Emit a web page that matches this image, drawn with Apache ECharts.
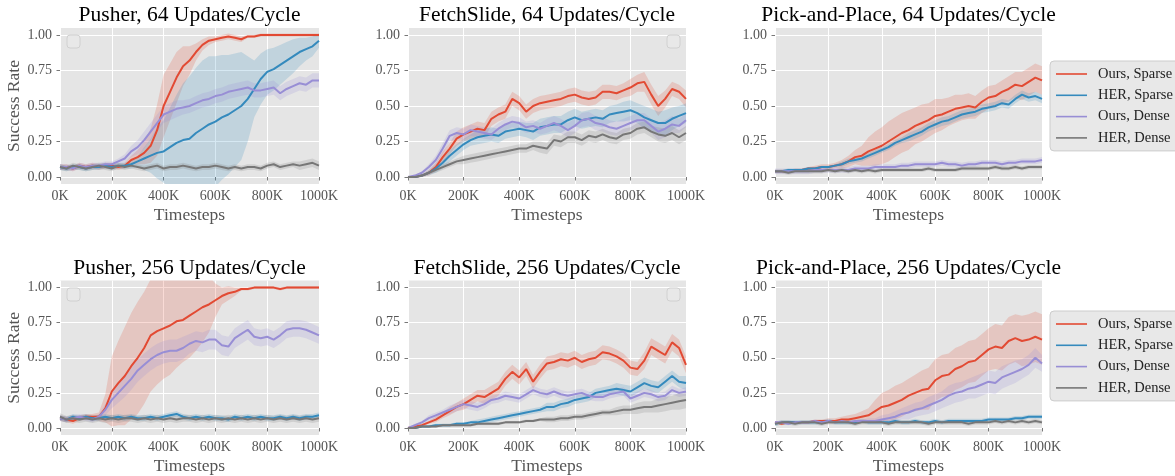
<!DOCTYPE html>
<html><head><meta charset="utf-8">
<script src="https://cdn.jsdelivr.net/npm/echarts@6/dist/echarts.min.js"></script>
<style>html,body{margin:0;padding:0;background:#fff}#c{width:1175px;height:476px}</style>
</head><body><div id="c"></div><script>
// ---------------- DATA ----------------
const timestepsK = [0,25,50,75,100,125,150,175,200,225,250,275,300,325,350,375,400,425,450,475,500,525,550,575,600,625,650,675,700,725,750,775,800,825,850,875,900,925,950,975,1000];
const methods = ['Ours, Sparse','HER, Sparse','Ours, Dense','HER, Dense'];
const titles = ['Pusher, 64 Updates/Cycle','FetchSlide, 64 Updates/Cycle','Pick-and-Place, 64 Updates/Cycle','Pusher, 256 Updates/Cycle','FetchSlide, 256 Updates/Cycle','Pick-and-Place, 256 Updates/Cycle'];
const yTicks = [0,0.25,0.5,0.75,1.0];

// Pusher, 64
const pusher64_oursSparse = [0.07,0.07,0.06,0.08,0.07,0.08,0.07,0.08,0.08,0.07,0.08,0.12,0.14,0.17,0.22,0.33,0.5,0.6,0.7,0.78,0.82,0.88,0.93,0.96,0.97,0.98,0.99,0.98,0.97,0.99,0.99,1.0,1.0,1.0,1.0,1.0,1.0,1.0,1.0,1.0,1.0];
const pusher64_oursSparse_sd = [0.02,0.02,0.02,0.02,0.02,0.02,0.02,0.02,0.02,0.02,0.02,0.03,0.05,0.08,0.12,0.18,0.22,0.2,0.18,0.14,0.1,0.06,0.04,0.03,0.02,0.02,0.02,0.02,0.02,0.01,0.01,0.01,0.01,0.01,0.01,0.01,0.01,0.01,0.01,0.01,0.01];
const pusher64_herSparse = [0.07,0.06,0.07,0.07,0.06,0.07,0.07,0.08,0.07,0.08,0.08,0.09,0.11,0.13,0.15,0.17,0.18,0.21,0.24,0.26,0.27,0.31,0.34,0.37,0.39,0.42,0.44,0.47,0.5,0.55,0.62,0.69,0.74,0.76,0.79,0.82,0.85,0.88,0.9,0.92,0.96];
const pusher64_herSparse_sd = [0.02,0.02,0.02,0.02,0.02,0.02,0.02,0.02,0.02,0.02,0.02,0.03,0.04,0.08,0.12,0.18,0.22,0.28,0.34,0.4,0.44,0.46,0.48,0.48,0.46,0.44,0.42,0.4,0.38,0.3,0.2,0.18,0.16,0.15,0.14,0.13,0.12,0.1,0.08,0.07,0.05];
const pusher64_oursDense = [0.07,0.07,0.06,0.08,0.07,0.08,0.08,0.09,0.09,0.11,0.13,0.18,0.21,0.26,0.32,0.38,0.44,0.46,0.48,0.49,0.5,0.52,0.54,0.55,0.57,0.58,0.6,0.61,0.62,0.63,0.61,0.61,0.62,0.63,0.59,0.62,0.64,0.66,0.65,0.68,0.68];
const pusher64_oursDense_sd = [0.02,0.02,0.02,0.02,0.02,0.02,0.02,0.02,0.02,0.02,0.03,0.04,0.05,0.06,0.06,0.06,0.06,0.06,0.06,0.05,0.05,0.05,0.05,0.05,0.05,0.05,0.05,0.05,0.05,0.05,0.05,0.05,0.05,0.05,0.05,0.05,0.05,0.05,0.05,0.05,0.05];
const pusher64_herDense = [0.07,0.06,0.08,0.07,0.06,0.07,0.08,0.07,0.06,0.08,0.07,0.08,0.07,0.06,0.07,0.08,0.06,0.07,0.07,0.08,0.07,0.06,0.07,0.07,0.08,0.07,0.06,0.07,0.06,0.07,0.07,0.06,0.08,0.09,0.07,0.08,0.09,0.08,0.09,0.1,0.08];
const pusher64_herDense_sd = [0.02,0.02,0.02,0.02,0.02,0.02,0.02,0.02,0.02,0.02,0.02,0.02,0.02,0.02,0.02,0.02,0.02,0.02,0.02,0.02,0.02,0.02,0.02,0.02,0.02,0.02,0.02,0.02,0.02,0.02,0.02,0.02,0.02,0.02,0.02,0.02,0.02,0.03,0.03,0.03,0.03];

// FetchSlide, 64
const fetch64_oursSparse = [0.0,0.0,0.01,0.03,0.07,0.14,0.2,0.27,0.3,0.32,0.34,0.33,0.41,0.44,0.46,0.55,0.52,0.46,0.5,0.52,0.53,0.54,0.55,0.57,0.58,0.56,0.55,0.56,0.6,0.6,0.59,0.61,0.63,0.66,0.67,0.58,0.5,0.55,0.62,0.6,0.55];
const fetch64_oursSparse_sd = [0.0,0.005,0.01,0.02,0.03,0.04,0.04,0.05,0.05,0.05,0.05,0.05,0.05,0.05,0.05,0.05,0.05,0.05,0.05,0.05,0.05,0.05,0.05,0.05,0.05,0.05,0.05,0.05,0.05,0.05,0.05,0.05,0.06,0.06,0.07,0.07,0.07,0.06,0.05,0.05,0.06];
const fetch64_herSparse = [0.0,0.0,0.01,0.03,0.06,0.1,0.15,0.19,0.23,0.26,0.28,0.29,0.3,0.29,0.32,0.33,0.34,0.33,0.32,0.35,0.36,0.37,0.37,0.4,0.42,0.4,0.41,0.42,0.41,0.44,0.45,0.46,0.47,0.45,0.42,0.4,0.38,0.38,0.41,0.43,0.45];
const fetch64_herSparse_sd = [0.0,0.005,0.01,0.02,0.03,0.04,0.04,0.04,0.04,0.04,0.05,0.05,0.05,0.05,0.05,0.05,0.05,0.05,0.06,0.06,0.06,0.06,0.06,0.06,0.06,0.06,0.06,0.06,0.06,0.06,0.06,0.07,0.07,0.07,0.08,0.08,0.08,0.09,0.08,0.07,0.07];
const fetch64_oursDense = [0.0,0.01,0.03,0.07,0.12,0.2,0.29,0.31,0.3,0.33,0.32,0.31,0.3,0.34,0.37,0.39,0.38,0.35,0.36,0.34,0.36,0.38,0.36,0.33,0.36,0.4,0.41,0.38,0.37,0.35,0.34,0.36,0.38,0.4,0.4,0.36,0.32,0.34,0.37,0.36,0.4];
const fetch64_oursDense_sd = [0.0,0.005,0.01,0.02,0.03,0.04,0.04,0.04,0.04,0.04,0.04,0.04,0.04,0.04,0.04,0.04,0.04,0.04,0.04,0.04,0.05,0.05,0.05,0.05,0.05,0.05,0.05,0.05,0.05,0.05,0.05,0.05,0.05,0.05,0.05,0.05,0.06,0.06,0.06,0.05,0.05];
const fetch64_herDense = [0.0,0.0,0.01,0.03,0.05,0.07,0.09,0.11,0.12,0.13,0.14,0.15,0.16,0.17,0.18,0.19,0.2,0.2,0.22,0.21,0.2,0.26,0.25,0.28,0.28,0.26,0.29,0.28,0.3,0.28,0.27,0.3,0.31,0.34,0.35,0.32,0.3,0.29,0.31,0.28,0.31];
const fetch64_herDense_sd = [0.0,0.005,0.01,0.01,0.02,0.02,0.02,0.02,0.03,0.03,0.03,0.03,0.03,0.03,0.03,0.03,0.03,0.03,0.03,0.04,0.04,0.04,0.04,0.04,0.04,0.04,0.04,0.04,0.04,0.04,0.04,0.04,0.04,0.04,0.04,0.04,0.05,0.05,0.05,0.05,0.05];

// Pick-and-Place, 64
const pick64_oursSparse = [0.04,0.04,0.04,0.05,0.05,0.06,0.06,0.07,0.07,0.08,0.09,0.11,0.14,0.15,0.18,0.2,0.22,0.25,0.28,0.31,0.33,0.36,0.38,0.4,0.43,0.44,0.46,0.48,0.49,0.5,0.49,0.53,0.56,0.57,0.6,0.62,0.65,0.64,0.67,0.7,0.68];
const pick64_oursSparse_sd = [0.01,0.01,0.01,0.01,0.01,0.01,0.02,0.02,0.02,0.02,0.03,0.04,0.05,0.07,0.1,0.12,0.13,0.14,0.14,0.14,0.14,0.13,0.13,0.12,0.12,0.11,0.1,0.1,0.09,0.09,0.08,0.08,0.08,0.08,0.08,0.09,0.09,0.1,0.1,0.1,0.1];
const pick64_herSparse = [0.04,0.04,0.05,0.05,0.05,0.06,0.06,0.07,0.07,0.08,0.09,0.11,0.12,0.13,0.15,0.17,0.19,0.21,0.24,0.26,0.28,0.3,0.32,0.35,0.37,0.39,0.4,0.42,0.44,0.45,0.46,0.48,0.49,0.5,0.52,0.51,0.55,0.58,0.56,0.57,0.55];
const pick64_herSparse_sd = [0.01,0.01,0.01,0.01,0.01,0.01,0.01,0.01,0.01,0.01,0.02,0.02,0.02,0.02,0.02,0.02,0.02,0.02,0.02,0.02,0.03,0.03,0.03,0.03,0.03,0.03,0.03,0.03,0.03,0.03,0.03,0.03,0.03,0.03,0.03,0.03,0.03,0.03,0.03,0.03,0.03];
const pick64_oursDense = [0.04,0.04,0.04,0.04,0.04,0.04,0.05,0.05,0.05,0.05,0.05,0.05,0.06,0.06,0.06,0.07,0.07,0.07,0.07,0.08,0.08,0.09,0.09,0.09,0.09,0.1,0.09,0.09,0.08,0.09,0.09,0.1,0.1,0.1,0.09,0.1,0.1,0.11,0.11,0.11,0.12];
const pick64_oursDense_sd = [0.02,0.02,0.02,0.02,0.02,0.02,0.02,0.02,0.02,0.02,0.02,0.02,0.02,0.02,0.02,0.02,0.02,0.02,0.02,0.02,0.02,0.02,0.02,0.02,0.02,0.02,0.02,0.02,0.02,0.02,0.02,0.02,0.02,0.02,0.02,0.02,0.02,0.02,0.02,0.02,0.02];
const pick64_herDense = [0.04,0.04,0.03,0.04,0.04,0.04,0.04,0.04,0.05,0.04,0.05,0.04,0.05,0.04,0.05,0.04,0.05,0.05,0.05,0.05,0.05,0.05,0.05,0.06,0.05,0.05,0.05,0.05,0.06,0.06,0.06,0.06,0.06,0.07,0.06,0.06,0.07,0.06,0.07,0.07,0.07];
const pick64_herDense_sd = [0.015,0.015,0.015,0.015,0.015,0.015,0.015,0.015,0.015,0.015,0.015,0.015,0.015,0.015,0.015,0.015,0.015,0.015,0.015,0.015,0.015,0.015,0.015,0.015,0.015,0.015,0.015,0.015,0.015,0.015,0.015,0.015,0.015,0.015,0.015,0.015,0.015,0.015,0.015,0.015,0.015];

// Pusher, 256
const pusher256_oursSparse = [0.07,0.06,0.05,0.07,0.08,0.08,0.08,0.14,0.26,0.32,0.37,0.44,0.5,0.57,0.66,0.69,0.71,0.73,0.76,0.77,0.8,0.83,0.86,0.88,0.91,0.94,0.96,0.97,0.99,0.99,1.0,1.0,1.0,1.0,0.99,1.0,1.0,1.0,1.0,1.0,1.0];
const pusher256_oursSparse_sd = [0.02,0.02,0.02,0.02,0.02,0.02,0.03,0.1,0.25,0.3,0.35,0.38,0.4,0.4,0.4,0.38,0.36,0.35,0.33,0.3,0.3,0.28,0.25,0.2,0.12,0.06,0.05,0.03,0.01,0.01,0.01,0.01,0.01,0.01,0.01,0.01,0.01,0.01,0.01,0.01,0.01];
const pusher256_herSparse = [0.07,0.06,0.08,0.07,0.08,0.07,0.07,0.08,0.07,0.08,0.07,0.08,0.07,0.07,0.08,0.07,0.08,0.09,0.1,0.08,0.07,0.08,0.07,0.08,0.07,0.07,0.06,0.08,0.07,0.08,0.07,0.08,0.07,0.07,0.08,0.07,0.08,0.07,0.08,0.08,0.09];
const pusher256_herSparse_sd = [0.02,0.02,0.02,0.02,0.02,0.02,0.02,0.02,0.02,0.02,0.02,0.02,0.02,0.02,0.02,0.02,0.02,0.02,0.02,0.02,0.02,0.02,0.02,0.02,0.02,0.02,0.02,0.02,0.02,0.02,0.02,0.02,0.02,0.02,0.02,0.02,0.02,0.02,0.02,0.02,0.02];
const pusher256_oursDense = [0.07,0.06,0.07,0.08,0.07,0.06,0.08,0.13,0.2,0.25,0.3,0.35,0.41,0.45,0.49,0.52,0.54,0.55,0.55,0.57,0.6,0.62,0.61,0.63,0.63,0.59,0.58,0.64,0.67,0.7,0.65,0.64,0.65,0.63,0.66,0.7,0.71,0.71,0.7,0.68,0.66];
const pusher256_oursDense_sd = [0.02,0.02,0.02,0.02,0.02,0.02,0.02,0.04,0.06,0.07,0.08,0.08,0.08,0.08,0.08,0.08,0.08,0.08,0.08,0.08,0.07,0.07,0.07,0.07,0.07,0.07,0.07,0.07,0.07,0.07,0.06,0.06,0.06,0.06,0.06,0.06,0.06,0.06,0.06,0.06,0.06];
const pusher256_herDense = [0.08,0.06,0.07,0.06,0.07,0.06,0.07,0.06,0.07,0.06,0.07,0.07,0.06,0.07,0.06,0.07,0.06,0.07,0.06,0.07,0.07,0.06,0.07,0.06,0.07,0.06,0.07,0.06,0.07,0.06,0.07,0.06,0.07,0.06,0.07,0.06,0.07,0.06,0.07,0.06,0.07];
const pusher256_herDense_sd = [0.025,0.025,0.025,0.025,0.025,0.025,0.025,0.025,0.025,0.025,0.025,0.025,0.025,0.025,0.025,0.025,0.025,0.025,0.025,0.025,0.025,0.025,0.025,0.025,0.025,0.025,0.025,0.025,0.025,0.025,0.025,0.025,0.025,0.025,0.025,0.025,0.025,0.025,0.025,0.025,0.025];

// FetchSlide, 256
const fetch256_oursSparse = [0.0,0.01,0.02,0.04,0.06,0.09,0.12,0.15,0.17,0.2,0.23,0.22,0.25,0.28,0.35,0.4,0.36,0.42,0.33,0.4,0.46,0.47,0.49,0.48,0.5,0.47,0.49,0.5,0.54,0.53,0.51,0.48,0.43,0.42,0.48,0.58,0.55,0.52,0.61,0.57,0.45];
const fetch256_oursSparse_sd = [0.0,0.005,0.01,0.01,0.02,0.02,0.03,0.03,0.04,0.04,0.04,0.05,0.05,0.05,0.05,0.05,0.05,0.05,0.05,0.05,0.05,0.05,0.05,0.05,0.05,0.05,0.05,0.05,0.05,0.05,0.05,0.05,0.05,0.05,0.06,0.06,0.06,0.06,0.06,0.06,0.06];
const fetch256_herSparse = [0.0,0.0,0.01,0.01,0.02,0.02,0.02,0.03,0.03,0.04,0.04,0.05,0.06,0.07,0.08,0.09,0.1,0.11,0.12,0.13,0.15,0.15,0.17,0.18,0.2,0.21,0.22,0.25,0.26,0.27,0.28,0.27,0.26,0.29,0.32,0.3,0.29,0.33,0.37,0.33,0.32];
const fetch256_herSparse_sd = [0.0,0.005,0.005,0.01,0.01,0.01,0.01,0.01,0.01,0.01,0.02,0.02,0.02,0.02,0.02,0.02,0.02,0.02,0.02,0.02,0.03,0.03,0.03,0.03,0.03,0.03,0.03,0.03,0.03,0.03,0.04,0.04,0.04,0.04,0.04,0.04,0.04,0.04,0.04,0.04,0.05];
const fetch256_oursDense = [0.0,0.02,0.04,0.07,0.09,0.11,0.13,0.15,0.17,0.16,0.15,0.17,0.2,0.21,0.23,0.22,0.21,0.24,0.27,0.25,0.24,0.26,0.24,0.23,0.24,0.25,0.23,0.22,0.22,0.24,0.25,0.26,0.21,0.23,0.25,0.24,0.22,0.23,0.27,0.25,0.26];
const fetch256_oursDense_sd = [0.0,0.01,0.01,0.02,0.02,0.02,0.03,0.03,0.03,0.03,0.03,0.03,0.03,0.03,0.03,0.03,0.03,0.03,0.03,0.03,0.03,0.03,0.03,0.03,0.03,0.03,0.03,0.03,0.03,0.03,0.03,0.03,0.03,0.03,0.03,0.03,0.03,0.03,0.03,0.03,0.03];
const fetch256_herDense = [0.0,0.0,0.01,0.01,0.01,0.02,0.02,0.02,0.02,0.02,0.03,0.03,0.03,0.03,0.04,0.04,0.04,0.05,0.05,0.06,0.06,0.06,0.07,0.07,0.08,0.08,0.09,0.1,0.11,0.11,0.12,0.13,0.13,0.14,0.15,0.15,0.16,0.17,0.18,0.19,0.2];
const fetch256_herDense_sd = [0.0,0.0,0.005,0.005,0.005,0.01,0.01,0.01,0.01,0.01,0.01,0.01,0.01,0.01,0.01,0.01,0.01,0.01,0.01,0.01,0.02,0.02,0.02,0.02,0.02,0.02,0.02,0.02,0.02,0.02,0.03,0.03,0.03,0.04,0.04,0.04,0.05,0.05,0.05,0.06,0.06];

// Pick-and-Place, 256
const pick256_oursSparse = [0.04,0.03,0.04,0.04,0.04,0.04,0.05,0.05,0.05,0.05,0.06,0.06,0.07,0.08,0.09,0.12,0.15,0.16,0.18,0.2,0.23,0.25,0.27,0.28,0.34,0.37,0.38,0.42,0.44,0.47,0.48,0.52,0.56,0.58,0.57,0.62,0.64,0.62,0.63,0.65,0.63];
const pick256_oursSparse_sd = [0.01,0.01,0.01,0.01,0.01,0.01,0.01,0.01,0.02,0.02,0.02,0.03,0.03,0.04,0.05,0.08,0.1,0.11,0.12,0.12,0.12,0.13,0.14,0.15,0.15,0.15,0.15,0.15,0.15,0.15,0.15,0.15,0.15,0.16,0.16,0.17,0.17,0.18,0.18,0.18,0.18];
const pick256_herSparse = [0.03,0.04,0.04,0.04,0.04,0.04,0.04,0.04,0.05,0.04,0.04,0.04,0.04,0.05,0.04,0.04,0.04,0.04,0.05,0.04,0.04,0.05,0.04,0.04,0.05,0.04,0.05,0.05,0.05,0.05,0.05,0.05,0.06,0.06,0.06,0.06,0.07,0.07,0.08,0.08,0.08];
const pick256_herSparse_sd = [0.015,0.015,0.015,0.015,0.015,0.015,0.015,0.015,0.015,0.015,0.015,0.015,0.015,0.015,0.015,0.015,0.015,0.015,0.015,0.015,0.015,0.015,0.015,0.015,0.015,0.015,0.015,0.015,0.015,0.015,0.015,0.015,0.015,0.015,0.015,0.015,0.015,0.015,0.015,0.015,0.015];
const pick256_oursDense = [0.04,0.04,0.03,0.04,0.04,0.04,0.05,0.04,0.05,0.04,0.05,0.04,0.05,0.05,0.05,0.05,0.06,0.07,0.08,0.1,0.11,0.13,0.14,0.16,0.18,0.2,0.23,0.25,0.26,0.28,0.29,0.31,0.33,0.32,0.36,0.38,0.4,0.42,0.45,0.5,0.46];
const pick256_oursDense_sd = [0.01,0.01,0.01,0.01,0.01,0.01,0.01,0.01,0.01,0.01,0.01,0.01,0.01,0.01,0.02,0.02,0.03,0.03,0.04,0.04,0.05,0.05,0.05,0.06,0.06,0.06,0.07,0.07,0.07,0.07,0.08,0.08,0.08,0.08,0.08,0.08,0.08,0.07,0.07,0.07,0.06];
const pick256_herDense = [0.03,0.04,0.04,0.03,0.04,0.04,0.04,0.03,0.04,0.04,0.04,0.04,0.03,0.04,0.04,0.04,0.04,0.03,0.04,0.04,0.04,0.04,0.04,0.03,0.04,0.04,0.04,0.04,0.04,0.03,0.04,0.04,0.04,0.05,0.04,0.05,0.04,0.05,0.04,0.05,0.04];
const pick256_herDense_sd = [0.015,0.015,0.015,0.015,0.015,0.015,0.015,0.015,0.015,0.015,0.015,0.015,0.015,0.015,0.015,0.015,0.015,0.015,0.015,0.015,0.015,0.015,0.015,0.015,0.015,0.015,0.015,0.015,0.015,0.015,0.015,0.015,0.015,0.015,0.015,0.015,0.015,0.015,0.015,0.015,0.015];

// ---------------- BUILD ----------------
const panels = [
  {means:[pusher64_oursSparse,pusher64_herSparse,pusher64_oursDense,pusher64_herDense], sds:[pusher64_oursSparse_sd,pusher64_herSparse_sd,pusher64_oursDense_sd,pusher64_herDense_sd]},
  {means:[fetch64_oursSparse,fetch64_herSparse,fetch64_oursDense,fetch64_herDense], sds:[fetch64_oursSparse_sd,fetch64_herSparse_sd,fetch64_oursDense_sd,fetch64_herDense_sd]},
  {means:[pick64_oursSparse,pick64_herSparse,pick64_oursDense,pick64_herDense], sds:[pick64_oursSparse_sd,pick64_herSparse_sd,pick64_oursDense_sd,pick64_herDense_sd]},
  {means:[pusher256_oursSparse,pusher256_herSparse,pusher256_oursDense,pusher256_herDense], sds:[pusher256_oursSparse_sd,pusher256_herSparse_sd,pusher256_oursDense_sd,pusher256_herDense_sd]},
  {means:[fetch256_oursSparse,fetch256_herSparse,fetch256_oursDense,fetch256_herDense], sds:[fetch256_oursSparse_sd,fetch256_herSparse_sd,fetch256_oursDense_sd,fetch256_herDense_sd]},
  {means:[pick256_oursSparse,pick256_herSparse,pick256_oursDense,pick256_herDense], sds:[pick256_oursSparse_sd,pick256_herSparse_sd,pick256_oursDense_sd,pick256_herDense_sd]}
];

const SERIF = "'Liberation Serif','Times New Roman','DejaVu Serif',serif";
const colors = ['#E24A33','#348ABD','#988ED5','#777777'];
const bandColors = ['rgba(226,74,51,0.2)','rgba(52,138,189,0.2)','rgba(152,142,213,0.2)','rgba(119,119,119,0.2)'];
const colLeft = [60, 408, 775], colWidth = [259, 278, 267];
const rowTop = [27.9, 280.6], rowHeight = [156.2, 155.8];
const titleY = [15, 268];

const grids = [], xAxes = [], yAxes = [], series = [], graphics = [];
panels.forEach((pn, p) => {
  const r = Math.floor(p / 3), c = p % 3;
  grids.push({left: colLeft[c], top: rowTop[r], width: colWidth[c], height: rowHeight[r],
    show: true, backgroundColor: '#E5E5E5', borderWidth: 0, containLabel: false});
  xAxes.push({type: 'value', gridIndex: p, min: 0, max: 1000, interval: 200,
    axisLine: {show: false},
    axisTick: {show: true, length: 3.5, lineStyle: {color: '#555555', width: 0.8}},
    axisLabel: {formatter: v => v + 'K', color: '#555555', fontFamily: SERIF, fontSize: 14, margin: 5},
    splitLine: {show: true, lineStyle: {color: '#ffffff', width: 1}},
    name: 'Timesteps', nameLocation: 'middle', nameGap: 22,
    nameTextStyle: {color: '#555555', fontFamily: SERIF, fontSize: 17.5}
  });
  yAxes.push({type: 'value', gridIndex: p, min: -0.05, max: 1.05,
    axisLine: {show: false},
    axisTick: {show: true, length: 3.5, customValues: yTicks, lineStyle: {color: '#555555', width: 0.8}},
    axisLabel: {customValues: yTicks, formatter: v => v.toFixed(2), color: '#555555', fontFamily: SERIF, fontSize: 14, margin: 8},
    splitLine: {show: true, lineStyle: {color: '#ffffff', width: 1}},
    name: c === 0 ? 'Success Rate' : '', nameLocation: 'middle', nameGap: 34,
    nameTextStyle: {color: '#555555', fontFamily: SERIF, fontSize: 17.5}
  });
  // shaded bands (mean ± spread), drawn through the axis scales
  pn.means.forEach((mean, m) => {
    const sd = pn.sds[m];
    series.push({type: 'custom', name: '_band', xAxisIndex: p, yAxisIndex: p, silent: true, z: 1, clip: true,
      data: [[0, 0]],
      renderItem: (params, api) => {
        const up = timestepsK.map((x, k) => api.coord([x, mean[k] + sd[k]]));
        const lo = timestepsK.map((x, k) => api.coord([x, mean[k] - sd[k]])).reverse();
        return {type: 'polygon', shape: {points: up.concat(lo)}, style: {fill: bandColors[m]}};
      }
    });
  });
  pn.means.forEach((mean, m) => {
    series.push({type: 'line', name: methods[m], xAxisIndex: p, yAxisIndex: p, color: colors[m],
      data: timestepsK.map((x, k) => [x, mean[k]]), symbol: 'none', silent: true, z: 2 + m * 0.1,
      lineStyle: {color: colors[m], width: 2}});
  });
  graphics.push({type: 'text', z: 100, style: {text: titles[p], x: colLeft[c] + colWidth[c] / 2, y: titleY[r],
    textAlign: 'center', textVerticalAlign: 'middle', font: '21.5px ' + SERIF, fill: '#000000'}});
});

// empty legend boxes in the first two columns
[[67, 35], [667, 35], [67, 288], [667, 288]].forEach(([x, y]) => {
  graphics.push({type: 'rect', z: 100, shape: {x: x, y: y, width: 13, height: 13, r: 3},
    style: {fill: '#E8E8E8', stroke: '#D0D0D0', lineWidth: 1}});
});

const legends = [61, 311].map(t => ({
  data: methods, orient: 'vertical', left: 1050, top: t,
  icon: 'rect', itemWidth: 31, itemHeight: 1.6, itemGap: 5.3,
  backgroundColor: '#E8E8E8', borderColor: '#CCCCCC', borderWidth: 1, borderRadius: 4,
  padding: [5, 8, 5, 6], selectedMode: false,
  textStyle: {fontFamily: SERIF, fontSize: 14.5, color: '#222222', lineHeight: 16, padding: [0, 0, 0, 6]}
}));

const chart = echarts.init(document.getElementById('c'), null, {renderer: 'canvas'});
chart.setOption({
  animation: false,
  backgroundColor: '#ffffff',
  grid: grids, xAxis: xAxes, yAxis: yAxes, series: series,
  legend: legends, graphic: graphics
});
</script></body></html>
